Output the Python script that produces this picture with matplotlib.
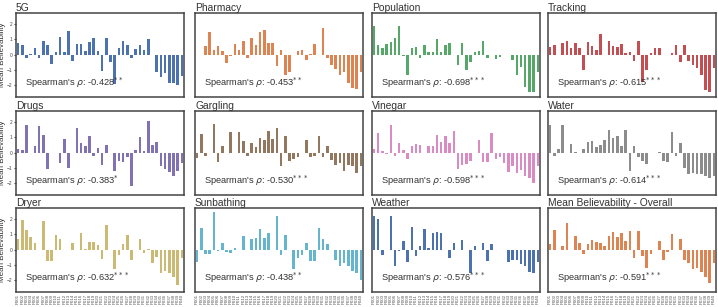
import matplotlib
matplotlib.use("Agg")
import matplotlib.pyplot as plt
import numpy as np

titles = ["5G", "Pharmacy", "Population", "Tracking",
          "Drugs", "Gargling", "Vinegar", "Water",
          "Dryer", "Sunbathing", "Weather", "Mean Believability - Overall"]

rho_labels = ["-0.428$^{**}$", "-0.453$^{**}$", "-0.698$^{***}$", "-0.615$^{***}$",
              "-0.383$^{*}$", "-0.530$^{***}$", "-0.598$^{***}$", "-0.614$^{***}$",
              "-0.632$^{***}$", "-0.438$^{**}$", "-0.576$^{***}$", "-0.591$^{***}$"]

colors = ["#4C72B0", "#DD8452", "#55A868", "#C44E52",
          "#8172B3", "#937860", "#DA8BC3", "#8C8C8C",
          "#CCB974", "#64B5CD", "#4C72B0", "#DD8452"]

items = ["P%03d" % i for i in range(1, 41)]

v_5g = [0.75, 0.65, -0.2, 0.05, 0.4, -0.2, 0.85, 0.6, -0.6, 0.15,
        1.15, 0.15, 1.5, -0.4, 0.7, 0.7, 0.25, 0.8, 1.05, 0.25,
        -1.05, 1.1, -0.5, -1.9, 0.4, 0.9, 0.6, -0.25, 0.35, 0.65,
        0.3, 1.0, 0.0, -1.1, -1.45, -1.2, -1.85, -1.85, -1.95, -1.4]
v_pharmacy = [0.0, 0.0, 0.55, 1.45, 0.3, 0.55, 0.2, -0.55, -0.1, 0.7,
              0.3, 0.9, -0.25, 1.1, 0.65, 1.45, 1.6, 0.75, 0.75, -0.75,
              0.3, -1.35, -1.1, 0.0, 0.2, 0.3, -0.35, 0.05, 0.7, 0.0,
              1.7, -0.25, -0.65, -0.95, -1.3, -1.1, -1.85, -2.15, -2.25, -1.1]
v_population = [1.85, 0.6, 0.45, 0.7, 0.8, 1.05, 1.85, -0.1, -1.3, 0.4,
                0.5, -0.2, 0.6, 0.15, 0.15, 1.0, 0.15, 0.65, 0.75, 0.0,
                -0.65, 0.75, -1.0, -0.5, 0.15, 0.2, 0.9, -0.25, 0.0, -0.3,
                -0.15, -0.05, -0.05, -0.35, -1.3, -0.8, -2.1, -2.4, -2.45, -1.1]
v_tracking = [0.5, 0.6, -0.05, 0.75, 0.9, 0.4, 0.75, 0.45, -1.0, 0.8,
              0.55, 0.3, 1.35, -0.05, 0.9, 0.55, 0.5, 0.7, 0.1, 0.15,
              -0.4, 0.9, -1.75, -1.0, 0.1, 0.45, 0.45, 0.0, 0.0, 0.1,
              0.65, -0.5, 0.65, -0.4, -0.65, -0.85, -1.35, -2.3, -2.45, -0.85]
v_drugs = [0.2, 0.15, 1.75, -0.05, 0.4, 1.7, 1.15, -1.1, 0.0, 0.0,
           -0.65, 0.85, -1.0, -0.05, 1.6, 0.6, 0.4, 1.1, -0.25, 0.3,
           -0.8, 0.5, 0.0, -1.2, -0.55, -0.6, -0.3, -2.2, 0.15, 1.0,
           0.1, 2.05, 0.5, 0.65, -0.85, -1.1, -1.25, -1.55, -1.2, -0.65]
v_gargling = [-0.35, 1.2, -0.2, 0.0, 1.85, -0.6, 0.45, 0.0, 1.3, 0.0,
              1.3, 0.75, -0.2, 0.6, 0.35, 0.95, 0.8, 1.4, 0.9, 1.6,
              -0.85, 1.1, -0.55, -0.45, -0.3, -0.05, 0.8, -0.3, -0.2, 1.05,
              -0.3, 0.45, -0.5, -0.8, -0.7, -1.2, -0.8, -0.85, -1.35, -0.85]
v_vinegar = [0.2, 1.25, 0.1, -0.1, 1.75, -0.2, 0.6, 0.15, -0.45, 0.45,
             0.55, 0.5, 0.0, 0.45, 0.45, 1.15, 0.7, 1.1, 0.6, 1.4,
             -1.1, -0.8, -0.75, -0.55, 0.0, 0.8, -0.6, -0.6, 1.25, -0.45,
             -0.3, -0.65, -1.25, -0.9, -1.35, -1.15, -1.5, -1.65, -2.0, -0.85]
v_water = [1.75, -0.25, 0.2, 1.75, 0.0, 0.55, 0.05, 0.0, 0.2, 0.7,
           0.75, 0.35, 0.5, 0.8, 1.45, 0.95, 1.1, 0.4, 1.45, -1.2,
           0.45, -0.3, -0.55, -0.75, -0.05, 0.0, 0.05, -0.55, -0.6, 1.35,
           -0.2, 0.6, -1.0, -1.4, -1.3, -1.4, -1.4, -1.55, -1.65, -1.5]
v_dryer = [0.7, 1.9, 1.25, 0.8, 0.4, 0.0, 1.85, -0.75, -0.75, 0.95,
           0.65, 0.0, 0.0, 0.45, -0.05, 1.05, 0.05, 0.5, 0.5, 0.3,
           -0.6, 1.6, 0.0, -1.25, -0.35, 0.35, 0.95, -0.7, 0.0, 0.65,
           -0.25, 0.05, -0.9, -0.5, -1.55, -1.4, -1.5, -1.75, -2.3, -0.55]
v_sunbathing = [-0.8, 1.4, -0.3, -0.3, 2.45, -0.1, 0.4, -0.15, -0.2, 0.1,
                0.0, 0.85, 0.0, 0.65, 0.75, 1.3, 0.75, 1.05, 0.0, 2.15,
                -0.35, 0.95, 0.0, -1.25, -0.55, -0.35, 0.4, -0.75, -0.75, 1.4,
                0.65, 0.35, -0.05, -0.7, -1.1, -0.9, -1.1, -1.4, -1.5, -2.0]
v_weather = [2.15, 2.0, -0.35, 0.0, 2.2, -1.1, -0.1, 0.55, -0.8, 1.45,
             -0.4, 0.25, 1.35, 0.1, 1.1, 1.15, 1.1, -0.05, -0.55, 0.45,
             0.0, 0.6, 0.0, -1.55, 0.2, 0.0, 0.4, -0.75, 0.35, 0.0,
             0.0, -0.05, -0.8, -0.65, -0.65, -0.95, -1.1, -1.45, -1.55, -0.8]
v_overall = [0.35, 1.25, 0.0, 0.25, 1.7, 0.0, 0.9, 0.4, -0.3, 0.35,
             0.6, 0.5, 0.45, 0.25, 0.85, 1.15, 0.8, 1.1, 0.55, 1.2,
             -0.55, 1.2, -0.4, -1.2, -0.3, 0.0, 0.55, -0.65, -0.15, 1.0,
             -0.05, 0.65, -0.65, -0.9, -1.25, -1.2, -1.45, -1.75, -2.15, -0.9]

series = [v_5g, v_pharmacy, v_population, v_tracking,
          v_drugs, v_gargling, v_vinegar, v_water,
          v_dryer, v_sunbathing, v_weather, v_overall]

plt.rcParams['font.family'] = ['Liberation Sans', 'DejaVu Sans']
fig = plt.figure(figsize=(7.18, 3.07), dpi=100)
fig.patch.set_facecolor("white")

lefts = [0.0223, 0.2716, 0.518, 0.7632]
bottoms = [0.684, 0.365, 0.049]
w, h = 0.234, 0.274
txt = "#333333"

x = np.arange(len(items))
for i, (title, vals, col, rl) in enumerate(zip(titles, series, colors, rho_labels)):
    r, c = divmod(i, 4)
    ax = fig.add_axes([lefts[c], bottoms[r], w, h])
    ax.bar(x, vals, width=0.6, color=col, edgecolor="none")
    ax.set_xlim(-0.5, len(items) - 0.5)
    ax.set_ylim(-2.75, 2.7)
    for s in ax.spines.values():
        s.set_color("#444444")
        s.set_linewidth(1.1)
    ax.set_title(title, loc="left", fontsize=7.4, color=txt, pad=0.8)
    ax.text(0.055, 0.13, "Spearman's $\\rho$: " + rl, transform=ax.transAxes,
            fontsize=6.7, color=txt)
    if c == 0:
        ax.set_yticks([-2, -1, 0, 1, 2])
        ax.tick_params(axis="y", labelsize=3.5, length=1.5, pad=1, colors="#444444")
        ax.set_ylabel("Mean Believability", fontsize=5.8, labelpad=1, color=txt)
    else:
        ax.set_yticks([])
    if r == 2:
        ax.set_xticks(x)
        ax.set_xticklabels(items, rotation=90, fontsize=3.2, color="#555555")
        ax.tick_params(axis="x", length=0, pad=1.5)
    else:
        ax.set_xticks([])

fig.savefig("out.png", dpi=100, facecolor="white")
